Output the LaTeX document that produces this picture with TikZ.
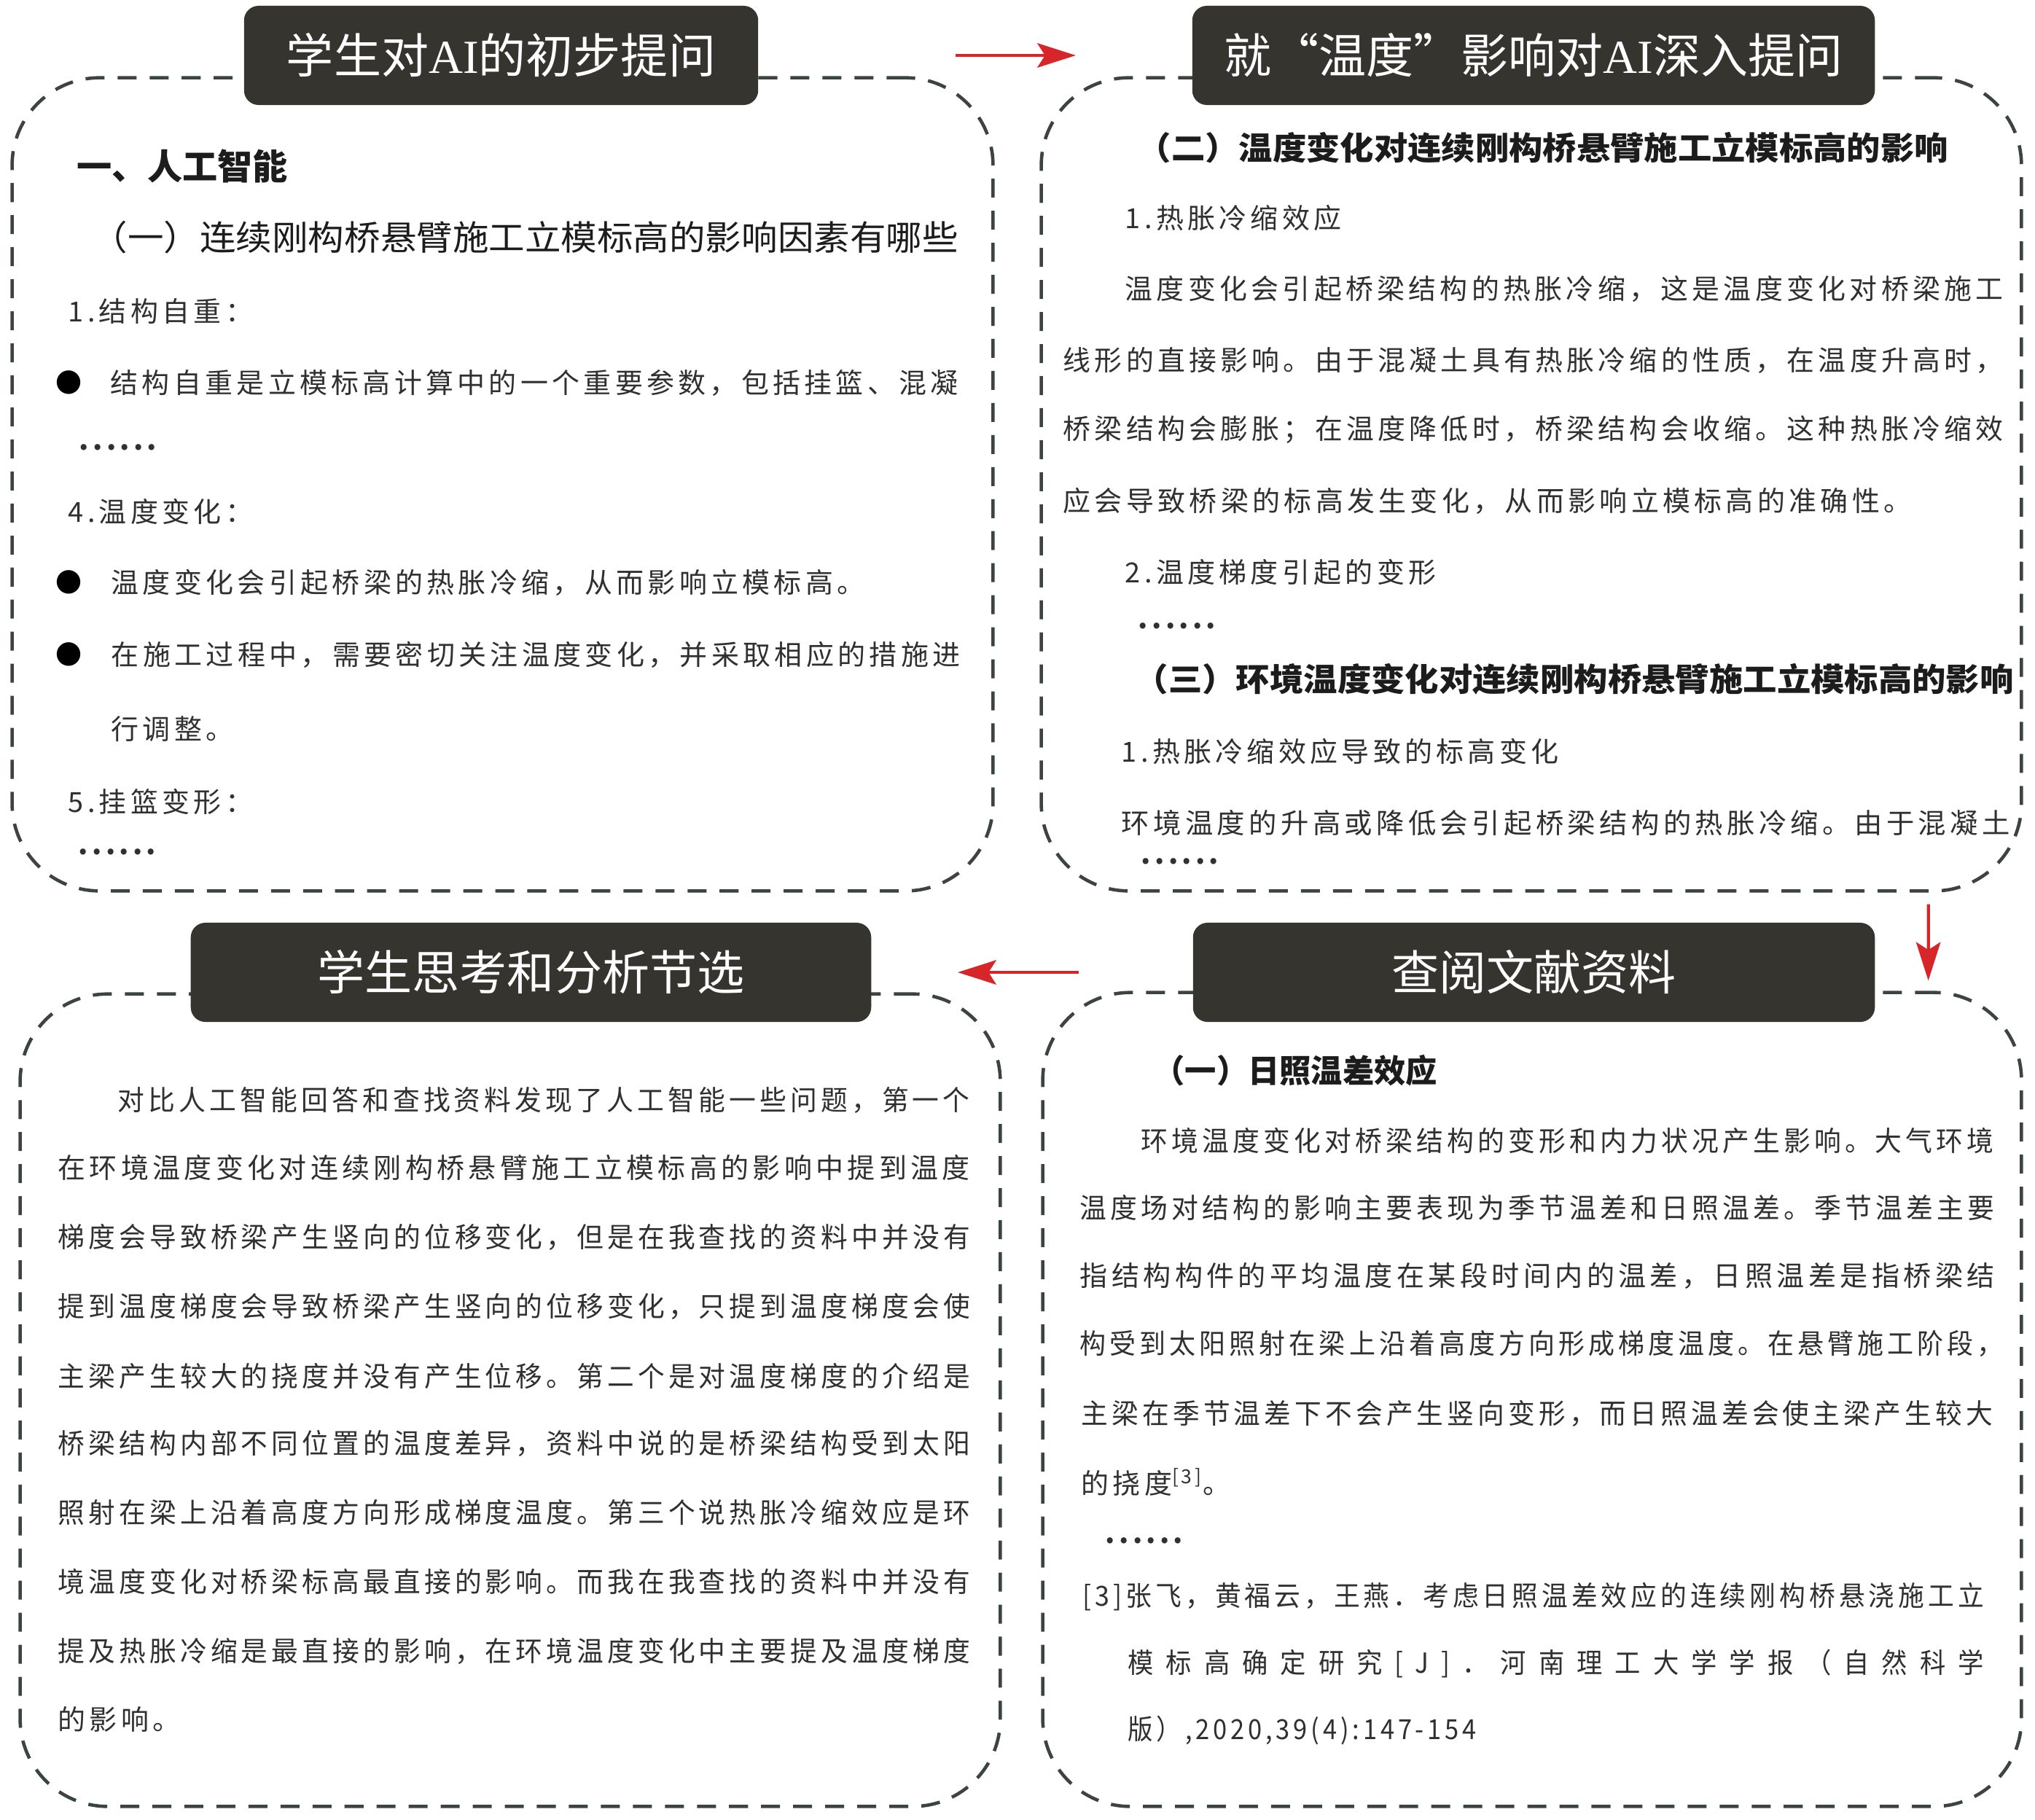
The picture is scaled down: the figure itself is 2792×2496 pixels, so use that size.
\documentclass[tikz,border=0pt]{standalone}
\usepackage{fontspec}
\usepackage{graphicx}
\usetikzlibrary{ arrows.meta, % For the red stealth tips
                 positioning,
               }
\newfontfamily\cjk{Noto Sans CJK SC}
\newfontfamily\cjkbody[LetterSpace=14]{Noto Sans CJK SC}
\newfontfamily\cjkwide[LetterSpace=48]{Noto Sans CJK SC}
\newfontfamily\cjkfw[CharacterWidth=Full]{Noto Sans CJK SC}
\newfontfamily\serifAI{Liberation Serif}

\definecolor{titlefill}{RGB}{54,52,47}
\definecolor{dashgray}{RGB}{60,68,64}
\definecolor{bodygray}{RGB}{48,48,48}
\definecolor{headblack}{RGB}{28,28,28}
\definecolor{arrowred}{RGB}{214,38,42}

\newlength\pxu \setlength\pxu{0.01cm}
\newcommand\fitw[2]{\resizebox{#1\pxu}{\height}{#2}}

\tikzstyle{panel} = [draw=dashgray, line width=1.3pt, dash pattern=on 7.4pt off 5.1pt, rounded corners=1.2cm, inner sep=0pt]
\tikzstyle{titlebox} = [fill=titlefill, rounded corners=0.2cm, minimum height=1.36cm, inner sep=0pt, text=white, font=\cjk\fontsize{18.5pt}{20pt}\selectfont]
\tikzstyle{body} = [anchor=west, inner sep=0pt, text=bodygray, font=\cjkbody\fontsize{10.8pt}{12pt}\selectfont]
\tikzstyle{head} = [anchor=west, inner sep=0pt, text=headblack, font=\cjk\bfseries\fontsize{12.5pt}{14pt}\selectfont]
\tikzstyle{dots} = [anchor=west, inner sep=0pt, text=bodygray, font=\cjkbody\bfseries\fontsize{10.8pt}{12pt}\selectfont]
\tikzstyle{bullet} = [inner sep=0pt, text=black, font=\cjk\fontsize{10.24pt}{12pt}\selectfont]
\tikzstyle{redarrow} = [draw=arrowred, fill=arrowred, line width=1.2pt, -{Stealth[length=15pt, width=9.5pt, inset=3pt]}]

\begin{document}
\begin{tikzpicture}[x=0.01cm, y=-0.01cm]
  \fill[white] (0,0) rectangle (2792,2496);
  \useasboundingbox (0,0) rectangle (2792,2496);

  % dashed panels
  \node (p1) [panel, minimum width=13.45cm, minimum height=11.15cm] at (689.5,664.5) {};
  \node (p2) [panel, minimum width=13.44cm, minimum height=11.15cm] at (2101,664.5) {};
  \node (p3) [panel, minimum width=13.44cm, minimum height=11.14cm] at (700,1921) {};
  \node (p4) [panel, minimum width=13.42cm, minimum height=11.16cm] at (2102,1920) {};

  % titles
  \node (t1) [titlebox, minimum width=7.05cm] at (687.5,76) {学生对{\serifAI AI}的初步提问};
  \node (t2) [titlebox, minimum width=9.36cm] at (2104,76) {就{\cjkfw “}温度{\cjkfw ”}影响对{\serifAI AI}深入提问};
  \node (t3) [titlebox, minimum width=9.33cm] at (728.5,1334) {学生思考和分析节选};
  \node (t4) [titlebox, minimum width=9.35cm] at (2104.5,1334) {查阅文献资料};

  \draw[redarrow, shorten <=2.7cm, shorten >=1.59cm] (t1) -- (t2);
  \draw[redarrow, shorten <=0.16cm, shorten >=0.14cm] ([xshift=-1.3cm]p2.south east) -- ([xshift=-1.3cm]p4.north east);
  \draw[redarrow, shorten <=1.56cm, shorten >=1.18cm] (t4) -- (t3);

  % first question
  \node (p1_h1) [head, font=\cjk\bfseries\fontsize{13.7pt}{15pt}\selectfont] at (105,228) {一、人工智能};
  \node (p1_h2) [body, text=headblack, font=\cjk\fontsize{13.4pt}{15pt}\selectfont] at (125,326) {\fitw{1189}{（一）连续刚构桥悬臂施工立模标高的影响因素有哪些}};
  \node (p1_l1) [body] at (93,427) {1.结构自重：};
  \node (p1_b1) [bullet] at (95,525) {●};
  \node (p1_l2) [body] at (151,525) {\fitw{1163}{结构自重是立模标高计算中的一个重要参数，包括挂篮、混凝}};
  \node (p1_d1) [dots] at (108,614) {......};
  \node (p1_l3) [body] at (93,702) {4.温度变化：};
  \node (p1_b2) [bullet] at (95,799) {●};
  \node (p1_l4) [body] at (152,799) {温度变化会引起桥梁的热胀冷缩，从而影响立模标高。};
  \node (p1_b3) [bullet] at (95,898) {●};
  \node (p1_l5) [body] at (152,898) {\fitw{1165}{在施工过程中，需要密切关注温度变化，并采取相应的措施进}};
  \node (p1_l6) [body] at (152,1000) {行调整。};
  \node (p1_l7) [body] at (93,1100) {5.挂篮变形：};
  \node (p1_d2) [dots] at (107,1169) {......};

  % deeper question
  \node (p2_h1) [head] at (1560,203) {\fitw{1112}{（二）温度变化对连续刚构桥悬臂施工立模标高的影响}};
  \node (p2_l1) [body] at (1543,299) {1.热胀冷缩效应};
  \node (p2_l2) [body] at (1543,396) {\fitw{1205}{温度变化会引起桥梁结构的热胀冷缩，这是温度变化对桥梁施工}};
  \node (p2_l3) [body] at (1458,494) {\fitw{1290}{线形的直接影响。由于混凝土具有热胀冷缩的性质，在温度升高时，}};
  \node (p2_l4) [body] at (1458,589) {\fitw{1290}{桥梁结构会膨胀；在温度降低时，桥梁结构会收缩。这种热胀冷缩效}};
  \node (p2_l5) [body] at (1458,687) {应会导致桥梁的标高发生变化，从而影响立模标高的准确性。};
  \node (p2_l6) [body] at (1543,785) {2.温度梯度引起的变形};
  \node (p2_d1) [dots] at (1561,859) {......};
  \node (p2_h2) [head] at (1556,932) {\fitw{1206}{（三）环境温度变化对连续刚构桥悬臂施工立模标高的影响}};
  \node (p2_l7) [body] at (1538,1031) {1.热胀冷缩效应导致的标高变化};
  \node (p2_l8) [body] at (1538,1129) {\fitw{1219}{环境温度的升高或降低会引起桥梁结构的热胀冷缩。由于混凝土}};
  \node (p2_d2) [dots] at (1565,1182) {......};

  % student analysis
  \node (p3_l1) [body] at (161,1509) {\fitw{1169}{对比人工智能回答和查找资料发现了人工智能一些问题，第一个}};
  \node (p3_l2) [body] at (79,1602) {\fitw{1251}{在环境温度变化对连续刚构桥悬臂施工立模标高的影响中提到温度}};
  \node (p3_l3) [body] at (79,1697) {\fitw{1251}{梯度会导致桥梁产生竖向的位移变化，但是在我查找的资料中并没有}};
  \node (p3_l4) [body] at (79,1792) {\fitw{1251}{提到温度梯度会导致桥梁产生竖向的位移变化，只提到温度梯度会使}};
  \node (p3_l5) [body] at (79,1888) {\fitw{1251}{主梁产生较大的挠度并没有产生位移。第二个是对温度梯度的介绍是}};
  \node (p3_l6) [body] at (79,1980) {\fitw{1251}{桥梁结构内部不同位置的温度差异，资料中说的是桥梁结构受到太阳}};
  \node (p3_l7) [body] at (79,2075) {\fitw{1251}{照射在梁上沿着高度方向形成梯度温度。第三个说热胀冷缩效应是环}};
  \node (p3_l8) [body] at (79,2170) {\fitw{1251}{境温度变化对桥梁标高最直接的影响。而我在我查找的资料中并没有}};
  \node (p3_l9) [body] at (79,2265) {\fitw{1251}{提及热胀冷缩是最直接的影响，在环境温度变化中主要提及温度梯度}};
  \node (p3_l10) [body] at (79,2359) {的影响。};

  % literature
  \node (p4_h1) [head] at (1582,1469) {\fitw{389}{（一）日照温差效应}};
  \node (p4_l1) [body] at (1565,1565) {\fitw{1170}{环境温度变化对桥梁结构的变形和内力状况产生影响。大气环境}};
  \node (p4_l2) [body] at (1481,1657) {\fitw{1255}{温度场对结构的影响主要表现为季节温差和日照温差。季节温差主要}};
  \node (p4_l3) [body] at (1481,1750) {\fitw{1255}{指结构构件的平均温度在某段时间内的温差，日照温差是指桥梁结}};
  \node (p4_l4) [body] at (1481,1843) {\fitw{1267}{构受到太阳照射在梁上沿着高度方向形成梯度温度。在悬臂施工阶段，}};
  \node (p4_l5) [body] at (1483,1939) {\fitw{1250}{主梁在季节温差下不会产生竖向变形，而日照温差会使主梁产生较大}};
  \node (p4_l6) [body] at (1483,2033) {的挠度\textsuperscript{[3]}。};
  \node (p4_d1) [dots] at (1516,2114) {......};
  \node (p4_r1) [body] at (1485,2191) {\fitw{1236}{[3]张飞，黄福云，王燕．考虑日照温差效应的连续刚构桥悬浇施工立}};
  \node (p4_r2) [body, font=\cjkwide\fontsize{10.8pt}{12pt}\selectfont] at (1547,2282) {\fitw{1174}{模标高确定研究[J]．河南理工大学学报（自然科学}};
  \node (p4_r3) [body] at (1547,2374) {\fitw{478}{版）,2020,39(4):147-154}};

\end{tikzpicture}
\end{document}
